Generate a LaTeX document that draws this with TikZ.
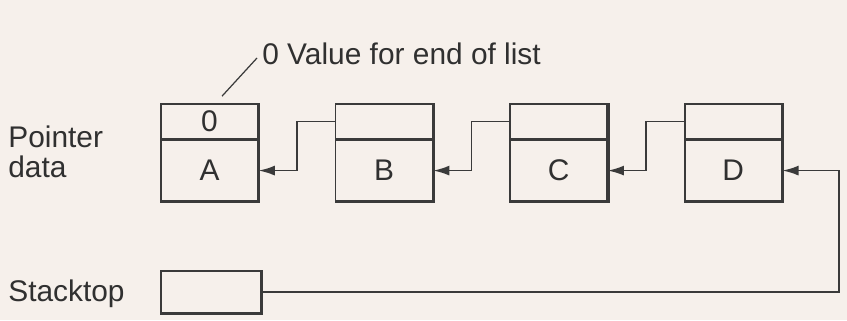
\documentclass[tikz,border=0pt]{standalone}
\usepackage{fontspec}
\setmainfont{Liberation Sans}
\usetikzlibrary{arrows.meta,positioning,calc}
\definecolor{paper}{RGB}{246,240,235}
\definecolor{ink}{RGB}{58,58,58}
\definecolor{inktext}{RGB}{48,48,48}
\tikzset{
  cell/.style={draw=ink,line width=0.9pt,minimum width=1.94cm,inner sep=0pt,text=inktext},
  ptrcell/.style={cell,minimum height=0.7cm},
  datacell/.style={cell,minimum height=1.2cm},
  shadeline/.style={draw=ink,line width=1.8pt},
  link/.style={draw=ink,line width=0.9pt,-{Latex[length=3.2mm,width=2mm]}},
  lbl/.style={inner sep=0pt,text=inktext}
}

\begin{document}
\begin{tikzpicture}[font=\fontsize{17}{17}\selectfont]
\fill[paper] (0,0) rectangle (16.94,6.4);
\useasboundingbox (0,0) rectangle (16.94,6.4);
\node[lbl,align=left,anchor=west] (ptrtext) at (0.16,3.37) {Pointer\\data};
\node[lbl,anchor=base west] (sttext) at (0.16,0.38) {Stacktop};
\node[ptrcell] (pa) at (4.19,3.97) {0};
\node[datacell,below=0pt of pa] (a) {A};
\node[ptrcell,right=1.52cm of pa] (pb) {};
\node[datacell,below=0pt of pb] (b) {B};
\node[ptrcell,right=1.52cm of pb] (pc) {};
\node[datacell,below=0pt of pc] (c) {C};
\node[ptrcell,right=1.52cm of pc] (pd) {};
\node[datacell,below=0pt of pd] (d) {D};
\node[cell,minimum width=2cm,minimum height=0.84cm] (st) at (4.22,0.56) {};
\node[lbl,anchor=base west] (note) at (5.24,5.12) {0 Value for end of list};
\foreach \p/\d in {pa/a,pb/b,pc/c,pd/d}
  \draw[shadeline] (\p.north east) -- (\d.south east) -- (\d.south west);
\draw[shadeline] (st.north east) -- (st.south east) -- (st.south west);
\foreach \from/\to in {pb/a,pc/b,pd/c}
  \draw[link] (\from.west) -- ++(-0.76,0) |- (\to.east);
\draw[link] (st.east) -- ++(11.54,0) |- (d.east);
\draw[ink,line width=0.7pt] ([xshift=0.25cm,yshift=4pt]pa.north) -- ([xshift=-0.1cm,yshift=0.12cm]note.base west);
\end{tikzpicture}
\end{document}
